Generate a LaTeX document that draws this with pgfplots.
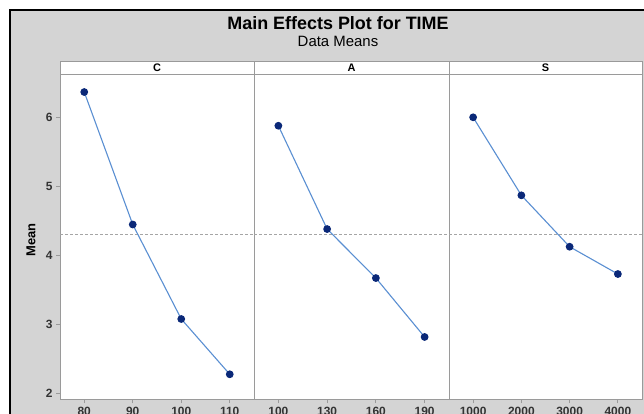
\documentclass[border=0pt]{standalone}
\usepackage{fontspec}
\setmainfont{Liberation Sans}
\usepackage{pgfplots}
\pgfplotsset{compat=1.18}
\definecolor{bggray}{HTML}{D4D4D4}
\definecolor{axgray}{HTML}{9A9A9A}
\definecolor{linec}{HTML}{5A8FD2}
\definecolor{markc}{HTML}{0A2878}
\definecolor{meanc}{HTML}{A5A5A5}
\definecolor{tickc}{HTML}{333333}
\pgfplotsset{panel/.style={
  scale only axis, height=325.3bp, ymin=1.919, ymax=6.627, xmin=-0.5, xmax=3.5,
  anchor=south west,
  axis line style={axgray, line width=0.9bp},
  axis background/.style={fill=white},
  xtick={0,1,2,3},
  tick style={axgray, line width=0.8bp},
  tick align=outside, major tick length=4bp,
  xtick pos=bottom, ytick pos=left,
  x tick label style={font=\fontsize{12}{12}\selectfont\bfseries, text=tickc},
  y tick label style={font=\fontsize{12}{12}\selectfont\bfseries, text=tickc},
  /pgf/number format/assume math mode=true,
  ytick=\empty,
},
series/.style={linec, line width=1.1bp, mark=*, mark size=3.3bp, mark options={fill=markc, draw=markc}},
meanline/.style={meanc, line width=0.9bp, dash pattern=on 3bp off 2bp, forget plot}
}
\begin{document}
\begin{tikzpicture}
\clip (0,0) rectangle (644bp,414bp);
\fill[white] (0,0) rectangle (644bp,414bp);
\fill[bggray] (10bp,0) rectangle (644bp,404bp);
\draw[black, line width=2bp] (10bp,0) -- (10bp,404bp) -- (644bp,404bp);

% Panel C
\begin{axis}[panel, at={(60bp,14.7bp)}, width=194bp,
  xticklabels={80,90,100,110}, ytick={2,3,4,5,6}]
\addplot[meanline] coordinates {(-0.5,4.307) (3.5,4.307)};
\addplot[series] coordinates {(0,6.366) (1,4.449) (2,3.081) (3,2.281)};
\end{axis}
% Panel A
\begin{axis}[panel, at={(254bp,14.7bp)}, width=195bp,
  xticklabels={100,130,160,190}]
\addplot[meanline] coordinates {(-0.5,4.307) (3.5,4.307)};
\addplot[series] coordinates {(0,5.878) (1,4.383) (2,3.674) (3,2.821)};
\end{axis}
% Panel S
\begin{axis}[panel, at={(449bp,14.7bp)}, width=193bp,
  xticklabels={1000,2000,3000,4000}]
\addplot[meanline] coordinates {(-0.5,4.307) (3.5,4.307)};
\addplot[series] coordinates {(0,6.000) (1,4.871) (2,4.127) (3,3.732)};
\end{axis}

% strips
\foreach \a/\b/\t in {60/254/C, 254/449/A, 449/642/S}{
  \draw[fill=white, draw=axgray, line width=0.9bp] (\a bp,340bp) rectangle (\b bp,353bp);
  \node[font=\fontsize{11}{11}\selectfont\bfseries, text=black, inner sep=0pt] at ({(\a+\b)/2*1bp},346.5bp) {\t};
}

% titles
\node[anchor=base, font=\fontsize{18}{18}\selectfont\bfseries, inner sep=0pt] at (338bp,384bp) {Main Effects Plot for TIME};
\node[anchor=base, font=\fontsize{15}{15}\selectfont, inner sep=0pt] at (338bp,367bp) {Data Means};
\node[rotate=90, font=\fontsize{13}{13}\selectfont\bfseries, inner sep=0pt] at (31bp,174bp) {Mean};
\end{tikzpicture}
\end{document}
